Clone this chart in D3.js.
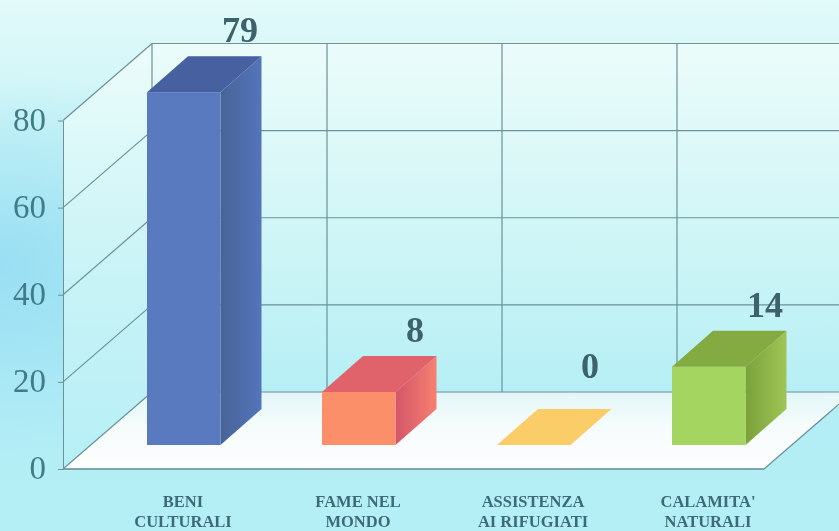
<!DOCTYPE html>
<html><head><meta charset="utf-8">
<script src="https://cdn.jsdelivr.net/npm/d3@7"></script>
<style>html,body{margin:0;padding:0;background:#b4eef5;overflow:hidden}svg{display:block}</style>
</head><body>
<svg id="c" width="839" height="531"></svg>
<script>
const categories = ["BENI CULTURALI", "FAME NEL MONDO", "ASSISTENZA AI RIFUGIATI", "CALAMITA' NATURALI"];
const labelLines = [["BENI", "CULTURALI"], ["FAME NEL", "MONDO"], ["ASSISTENZA", "AI RIFUGIATI"], ["CALAMITA'", "NATURALI"]];
const values = [79, 8, 0, 14];
const yTicks = [0, 20, 40, 60, 80];
const frontColors = ["#5a7abf", "#fb8f6b", "#fbcd68", "#a4d560"];
const topColors = ["#46609f", "#e0626a", "#fbcd68", "#84aa42"];
const sideDark = ["#486498", "#d4566a", "#fbcd68", "#7aa23a"];
const sideLight = ["#5474bb", "#f6806f", "#fbcd68", "#a0c556"];

const W = 839, H = 531;
const left = 63, right = 764, wallDX = 89, wallDY = -77, barDX = 41, barDY = -36, barW = 73.5, barBase = 445;
const svg = d3.select("#c");
const defs = svg.append("defs");

function grad(id, type, attrs, stops) {
  const g = defs.append(type).attr("id", id);
  Object.entries(attrs).forEach(([k, v]) => g.attr(k, v));
  stops.forEach(s => g.append("stop").attr("offset", s[0]).attr("stop-color", s[1]).attr("stop-opacity", s[2] === undefined ? 1 : s[2]));
}
grad("bg", "linearGradient", {x1: 0, y1: 0, x2: 0, y2: 1}, [[0, "#e2faf9"], [0.28, "#c8f3f6"], [0.6, "#b2ecf5"], [1, "#b4eff5"]]);
grad("blob", "radialGradient", {cx: 0, cy: 0.5, r: 0.36}, [[0, "#93dcf2", 0.85], [0.5, "#93dcf2", 0.4], [1, "#93dcf2", 0]]);
grad("wall", "linearGradient", {x1: 0, y1: 0, x2: 0, y2: 1}, [[0, "#ebfcfa"], [0.5, "#d2f6f6"], [1, "#b5eff5"]]);
grad("lwall", "linearGradient", {x1: 0, y1: 0, x2: 0, y2: 1}, [[0, "#ecfcfa"], [0.55, "#c8f3f6"], [1, "#b6eff6"]]);
grad("floor", "linearGradient", {x1: 0, y1: 0, x2: 0, y2: 1}, [[0, "#e2f6f7"], [0.45, "#f6fcfc"], [1, "#fdfefd"]]);
categories.forEach((c, i) => grad("side" + i, "linearGradient", {x1: 0, y1: 0, x2: 1, y2: 0}, [[0, sideDark[i]], [1, sideLight[i]]]));
defs.append("filter").attr("id", "soft").attr("x", "-5%").attr("y", "-5%").attr("width", "110%").attr("height", "110%")
  .append("feGaussianBlur").attr("stdDeviation", 0.6);

svg.append("rect").attr("width", W).attr("height", H).attr("fill", "url(#bg)");
svg.append("rect").attr("width", W).attr("height", H).attr("fill", "url(#blob)");
const root = svg.append("g").attr("filter", "url(#soft)");

const y = d3.scaleLinear().domain([0, 80]).range([469, 120.5]);
const gridX = d3.scaleBand().domain(categories).range([left + wallDX, left + wallDX + 175 * categories.length]);
const barX = d3.scalePoint().domain(categories).range([147, 672]);
const barY = d3.scaleLinear().domain([0, 8, 80]).range([barBase, 392, 88]);
const poly = pts => pts.map(p => p.join(",")).join(" ");
const gridColor = "#6a9298";

// walls and floor
const wallTop = y(80) + wallDY, wallBottom = y(0) + wallDY;
root.append("polygon").attr("fill", "url(#lwall)")
  .attr("points", poly([[left, y(80)], [left + wallDX, wallTop], [left + wallDX, wallBottom], [left, y(0)]]));
root.append("rect").attr("x", left + wallDX).attr("y", wallTop).attr("width", W - left - wallDX).attr("height", wallBottom - wallTop).attr("fill", "url(#wall)");
root.append("polygon").attr("fill", "url(#floor)")
  .attr("points", poly([[left, y(0)], [left + wallDX, wallBottom], [W, wallBottom], [W, y(0) + wallDY * (W - right) / wallDX], [right, y(0)]]));

// gridlines
const grid = root.append("g").attr("stroke", gridColor).attr("stroke-width", 1.2).attr("fill", "none");
yTicks.forEach(t => {
  grid.append("line").attr("x1", left).attr("y1", y(t)).attr("x2", left + wallDX).attr("y2", y(t) + wallDY);
  grid.append("line").attr("x1", left + wallDX).attr("y1", y(t) + wallDY).attr("x2", W).attr("y2", y(t) + wallDY);
});
categories.forEach(c => grid.append("line").attr("x1", gridX(c)).attr("x2", gridX(c)).attr("y1", wallTop).attr("y2", wallBottom));
grid.append("line").attr("x1", right).attr("y1", y(0)).attr("x2", W).attr("y2", y(0) + wallDY * (W - right) / wallDX);
grid.append("line").attr("x1", left).attr("x2", right).attr("y1", y(0)).attr("y2", y(0)).attr("stroke", "#5f8a92").attr("stroke-width", 1.4);

// y axis
const axis = root.append("g").attr("transform", `translate(${left},0)`)
  .call(d3.axisLeft(y).tickValues(yTicks).tickSize(5).tickSizeOuter(0).tickPadding(12));
axis.select(".domain").attr("stroke", gridColor);
axis.selectAll(".tick line").attr("stroke", gridColor);
axis.selectAll("text").attr("font-family", "Liberation Serif").attr("font-size", 33).attr("fill", "#3f7c88").attr("dy", "0.3em");

// bars
const bars = root.selectAll("g.bar").data(categories).join("g").attr("class", "bar");
bars.each(function (c, i) {
  const g = d3.select(this), v = values[i], x0 = barX(c), x1 = x0 + barW, t = barY(v);
  if (v > 0) {
    g.append("polygon").attr("fill", `url(#side${i})`)
      .attr("points", poly([[x1, t], [x1 + barDX, t + barDY], [x1 + barDX, barBase + barDY], [x1, barBase]]));
    g.append("rect").attr("x", x0).attr("y", t).attr("width", barW).attr("height", barBase - t).attr("fill", frontColors[i]);
  }
  g.append("polygon").attr("fill", topColors[i])
    .attr("points", poly([[x0, t], [x0 + barDX, t + barDY], [x1 + barDX, t + barDY], [x1, t]]));
  g.append("text").attr("x", x0 + 93).attr("y", t + barDY - (v > 0 ? 14 : 31))
    .attr("text-anchor", "middle").attr("font-family", "Liberation Serif").attr("font-weight", "bold")
    .attr("font-size", 36).attr("fill", "#3c626c").text(v);
});

// category labels
const labels = root.selectAll("text.cat").data(categories).join("text").attr("class", "cat")
  .attr("text-anchor", "middle").attr("font-family", "Liberation Serif").attr("font-weight", "bold")
  .attr("font-size", 16.5).attr("fill", "#3d6a78");
labels.each(function (c, i) {
  labelLines[i].forEach((l, j) => d3.select(this).append("tspan").attr("x", barX(c) + 36).attr("y", 507 + j * 19.5).text(l));
});
</script>
</body></html>
